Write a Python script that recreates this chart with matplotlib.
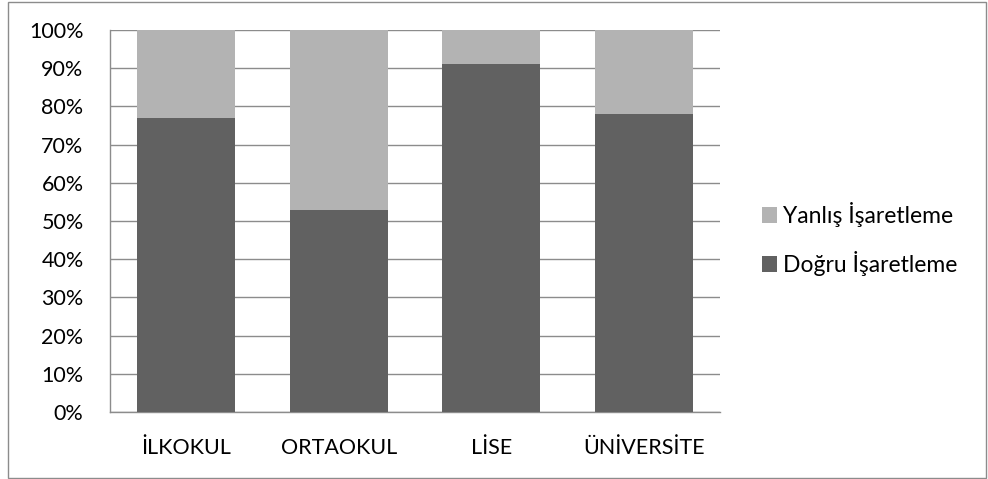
import matplotlib
matplotlib.use("Agg")
import matplotlib.pyplot as plt
from matplotlib.patches import Rectangle
from matplotlib.ticker import FuncFormatter

categories = ["İLKOKUL", "ORTAOKUL", "LİSE", "ÜNİVERSİTE"]
dogru = [77, 53, 91, 78]
yanlis = [100 - v for v in dogru]
yticks = list(range(0, 101, 10))

plt.rcParams['font.family'] = ['Lato', 'DejaVu Sans']

fig = plt.figure(figsize=(9.88, 4.79), dpi=100)
W, H = 988, 479
ax = fig.add_axes([110 / W, 1 - 412 / H, 610 / W, 382 / H])

x = list(range(len(categories)))
ax.bar(x, dogru, width=0.643, color="#616161", label="Doğru İşaretleme", zorder=3)
ax.bar(x, yanlis, width=0.643, bottom=dogru, color="#b3b3b3", label="Yanlış İşaretleme", zorder=3)

ax.set_xlim(-0.5, len(categories) - 0.5)
ax.set_ylim(0, 100)
ax.set_yticks(yticks)
ax.yaxis.set_major_formatter(FuncFormatter(lambda v, p: f"{int(v)}%"))
ax.set_xticks(x)
ax.set_xticklabels(categories)
ax.tick_params(axis="both", length=0, labelsize=15.5, colors="black")
ax.tick_params(axis="y", pad=19)
ax.tick_params(axis="x", pad=18.5)
ax.grid(axis="y", color="#8c8c8c", linewidth=1, zorder=0)
for s in ["top", "right"]:
    ax.spines[s].set_visible(False)
for s in ["left", "bottom"]:
    ax.spines[s].set_color("#8c8c8c")
    ax.spines[s].set_linewidth(1)

handles, labels = ax.get_legend_handles_labels()
leg = fig.legend(handles[::-1], labels[::-1], loc="center left",
                 bbox_to_anchor=(741 / W, 1 - 239 / H), frameon=False,
                 fontsize=16.5, handlelength=0.65, handleheight=0.65,
                 handletextpad=0.3, labelspacing=1.05)

fig.patches.append(Rectangle((8 / W, 1 / H), (986 - 8) / W, (478 - 2) / H,
                             transform=fig.transFigure, fill=False,
                             edgecolor="#8c8c8c", linewidth=1))

fig.savefig("out.png", dpi=100)
